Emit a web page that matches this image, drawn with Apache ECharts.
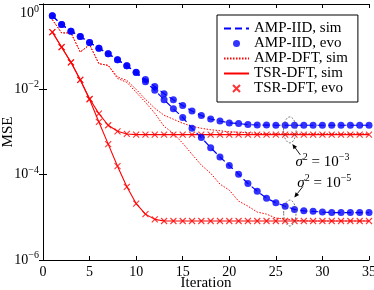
<!DOCTYPE html>
<html>
<head>
<meta charset="utf-8">
<script src="https://cdn.jsdelivr.net/npm/echarts@6/dist/echarts.min.js"></script>
<style>html,body{margin:0;padding:0;background:#fff}#c{width:374px;height:290px}</style>
</head>
<body>
<div id="c"></div>
<script>
// ---- data ----
const iterations = [1,2,3,4,5,6,7,8,9,10,11,12,13,14,15,16,17,18,19,20,21,22,23,24,25,26,27,28,29,30,31,32,33,34,35];
const xTicks = [0,5,10,15,20,25,30,35];
const yTickExponents = [0,-2,-4,-6];

// AMP-IID (sim and state evolution overlap)
const ampIid_s3 = [0.53,0.33,0.23,0.174,0.126,0.092,0.068,0.0495,0.0358,0.025,
  0.0169,0.0117,0.0079,0.0057,0.0042,0.0031,0.00243,0.00202,0.00181,0.00163,0.00158,0.00149,
  0.00146,0.00145,0.00144,0.00144,0.00144,0.00144,0.00144,0.00144,0.00144,0.00144,0.00144,0.00144,0.00144];
const ampIid_s5 = [0.53,0.33,0.23,0.174,0.126,0.092,0.068,0.0495,0.0355,0.0248,
  0.015,0.0095,0.0057,0.0035,0.0022,0.00122,7.4e-4,4.3e-4,2.6e-4,1.64e-4,1.02e-4,6.2e-5,4.1e-5,2.8e-5,2.2e-5,
  1.83e-5,1.53e-5,1.42e-5,1.38e-5,1.33e-5,1.29e-5,1.29e-5,1.29e-5,1.29e-5,1.29e-5];

// AMP-DFT, sim
const ampDft_s3 = [0.43,0.21,0.21,0.075,0.111,0.04,0.0364,
  0.0195,0.0162,0.0100,0.00583,0.0036,0.00247,0.00199,0.0016,0.00136,0.00122,0.00113,0.00107,0.00101,0.00099,0.00096,0.00093,
  0.00091,0.00091,0.00091,0.00091,0.00091,0.00091,0.00091,0.00091,0.00091,0.00091,0.00091,0.00091];
const ampDft_s5 = [0.43,0.21,0.21,0.075,0.111,0.04,0.0364,
  0.018,0.0146,0.0085,0.00497,0.00275,0.00136,0.00093,5.46e-4,3.0e-4,1.67e-4,1.08e-4,6.0e-5,4.34e-5,2.4e-5,1.83e-5,1.33e-5,1.19e-5,9.6e-6,9.1e-6,8.6e-6,
  8.2e-6,8.2e-6,8.2e-6,8.2e-6,8.2e-6,8.2e-6,8.2e-6,8.2e-6];

// TSR-DFT (sim and state evolution overlap)
const tsrDft_s3 = [0.22,0.097,0.043,0.0167,0.006,0.0027,0.00144,0.00104,9.0e-4,
  8.7e-4,8.7e-4,8.7e-4,8.7e-4,8.7e-4,8.7e-4,8.7e-4,8.7e-4,8.7e-4,8.7e-4,8.7e-4,8.7e-4,8.7e-4,8.7e-4,8.7e-4,8.7e-4,8.7e-4,
  8.7e-4,8.7e-4,8.7e-4,8.7e-4,8.7e-4,8.7e-4,8.7e-4,8.7e-4,8.7e-4];
const tsrDft_s5 = [0.22,0.097,0.043,0.0167,0.0058,0.00172,5.2e-4,1.58e-4,5.2e-5,2.1e-5,1.19e-5,8.95e-6,
  8.2e-6,8.2e-6,8.2e-6,8.2e-6,8.2e-6,8.2e-6,8.2e-6,8.2e-6,8.2e-6,8.2e-6,8.2e-6,8.2e-6,8.2e-6,8.2e-6,8.2e-6,8.2e-6,
  8.2e-6,8.2e-6,8.2e-6,8.2e-6,8.2e-6,8.2e-6,8.2e-6];

const legendNames = ['AMP-IID, sim','AMP-IID, evo','AMP-DFT, sim','TSR-DFT, sim','TSR-DFT, evo'];
const legendLineOnly = ['AMP-IID, sim','AMP-DFT, sim','TSR-DFT, sim'];

// ---- chart ----
const FONT = 'Liberation Serif';
const pair = arr => iterations.map((x,i)=>[x,arr[i]]);
const BLUE = '#0000ff', RED = '#ff0000';
const crossPath = 'path://M0,0L10,10M10,0L0,10';

function supLabel(v){
  const e = Math.round(Math.log10(v));
  return '{b|10}{s|' + (e < 0 ? '\u2212' + (-e) : String(e)) + '}';
}

const chart = echarts.init(document.getElementById('c'), null, {renderer:'canvas'});

const lineDotted = (name, data) => ({
  name, type:'line', data: pair(data), symbol:'none', z:2,
  lineStyle:{color:RED, width:1, type:[1.5,1.5]}, itemStyle:{color:RED}
});
const lineSolidRed = (name, data) => ({
  name, type:'line', data: pair(data), symbol:'none', z:3,
  lineStyle:{color:RED, width:1.1}, itemStyle:{color:RED}
});
const crossSeries = (name, data) => ({
  name, type:'scatter', data: pair(data), symbol: crossPath, symbolSize:6, z:4,
  itemStyle:{color:'rgba(0,0,0,0)', borderColor:RED, borderWidth:1.1}
});
const lineDashed = (name, data) => ({
  name, type:'line', data: pair(data), symbol:'none', z:5,
  lineStyle:{color:BLUE, width:1.2, type:[7,4]}, itemStyle:{color:BLUE}
});
const dotSeries = (name, data) => ({
  name, type:'scatter', data: pair(data), symbol:'circle', symbolSize:7, z:6,
  itemStyle:{color:BLUE}
});

const axisCommon = {
  axisLine:{show:true, lineStyle:{color:'#000', width:1}},
  axisTick:{show:true, inside:true, length:4, lineStyle:{color:'#000', width:1}},
  splitLine:{show:false}
};

chart.setOption({
  animation:false,
  backgroundColor:'#fff',
  grid:{left:43, right:5, top:4, bottom:30, containLabel:false, outerBoundsMode:'none'},
  legend:{
    data: legendNames.map(n => legendLineOnly.includes(n)
      ? {name:n, itemStyle:{opacity:0, borderWidth:0}}
      : {name:n}),
    orient:'vertical', left:217, top:15,
    padding:[6,10,6,6], itemGap:0, itemWidth:25, itemHeight:7,
    borderColor:'#000', borderWidth:1, backgroundColor:'#fff',
    textStyle:{fontFamily:FONT, fontSize:15, color:'#000', lineHeight:15},
    selectedMode:false
  },
  xAxis:[
    Object.assign({}, axisCommon, {
      type:'value', min:0, max:35, interval:5, position:'bottom',
      name:'Iteration', nameLocation:'middle', nameGap:16, nameMoveOverlap:false,
      nameTextStyle:{fontFamily:FONT, fontSize:15, color:'#000'},
      axisLabel:{fontFamily:FONT, fontSize:14, color:'#000', margin:5}
    }),
    Object.assign({}, axisCommon, {
      type:'value', min:0, max:35, interval:5, position:'top',
      axisLabel:{show:false}
    })
  ],
  yAxis:[
    Object.assign({}, axisCommon, {
      type:'log', logBase:10, min:1e-6, max:1, interval:2, position:'left',
      name:'MSE', nameLocation:'middle', nameGap:27, nameMoveOverlap:false,
      nameTextStyle:{fontFamily:FONT, fontSize:15, color:'#000'},
      axisLabel:{
        formatter: supLabel, margin:4, verticalAlignMaxLabel:'top',
        rich:{
          b:{fontFamily:FONT, fontSize:14, color:'#000'},
          s:{fontFamily:FONT, fontSize:10, color:'#000', padding:[0,0,9,0]}
        }
      }
    }),
    Object.assign({}, axisCommon, {
      type:'log', logBase:10, min:1e-6, max:1, interval:2, position:'right',
      axisLabel:{show:false}
    })
  ],
  series:[
    lineDotted('AMP-DFT, sim', ampDft_s3),
    lineDotted('AMP-DFT, sim', ampDft_s5),
    lineSolidRed('TSR-DFT, sim', tsrDft_s3),
    lineSolidRed('TSR-DFT, sim', tsrDft_s5),
    crossSeries('TSR-DFT, evo', tsrDft_s3),
    crossSeries('TSR-DFT, evo', tsrDft_s5),
    lineDashed('AMP-IID, sim', ampIid_s3),
    lineDashed('AMP-IID, sim', ampIid_s5),
    dotSeries('AMP-IID, evo', ampIid_s3),
    dotSeries('AMP-IID, evo', ampIid_s5)
  ]
});

// ---- annotations (placed through the axes) ----
const P = (x,y) => chart.convertToPixel({xAxisIndex:0, yAxisIndex:0}, [x,y]);
function arrow(from, to){
  const dx = to[0]-from[0], dy = to[1]-from[1];
  const L = Math.hypot(dx,dy), ux = dx/L, uy = dy/L;
  const hl = 5, hw = 2.2;
  const bx = to[0]-ux*hl, by = to[1]-uy*hl;
  return [
    {type:'line', shape:{x1:from[0], y1:from[1], x2:bx, y2:by}, style:{stroke:'#000', lineWidth:0.9}, z:20},
    {type:'polygon', shape:{points:[[to[0],to[1]],[bx-uy*hw,by+ux*hw],[bx+uy*hw,by-ux*hw]]}, style:{fill:'#000'}, z:20}
  ];
}
const e1 = P(26.5, 1.12e-3), e2 = P(26.5, 1.26e-5);
const t1 = P(30.0, 2.0e-4), t2 = P(30.2, 6.5e-5);
const richSigma = {
  i:{fontFamily:FONT, fontStyle:'italic', fontSize:15, fill:'#000'},
  n:{fontFamily:FONT, fontSize:15, fill:'#000'},
  s:{fontFamily:FONT, fontSize:10, fill:'#000', padding:[0,0,9,0]}
};
const a1 = arrow([e1[0]+10.5, e1[1]+25], [e1[0]+2.5, e1[1]+14]);
const a2 = arrow([e2[0]+13, e2[1]-26.5], [e2[0]+4.5, e2[1]-15.5]);
chart.setOption({
  graphic:[
    {type:'ellipse', shape:{cx:e1[0], cy:e1[1], rx:6.3, ry:13}, style:{fill:'none', stroke:'#555', lineWidth:0.8, lineDash:[2,1.5]}, z:20},
    {type:'ellipse', shape:{cx:e2[0], cy:e2[1], rx:6.2, ry:13}, style:{fill:'none', stroke:'#555', lineWidth:0.8, lineDash:[2,1.5]}, z:20},
    ...a1, ...a2,
    {type:'text', x:t1[0], y:t1[1], z:20, style:{text:'{i|σ}{s|2}{n| = 10}{s|\u22123}', rich:richSigma, align:'center', verticalAlign:'middle'}},
    {type:'text', x:t2[0], y:t2[1], z:20, style:{text:'{i|σ}{s|2}{n| = 10}{s|\u22125}', rich:richSigma, align:'center', verticalAlign:'middle'}}
  ]
});
</script>
</body>
</html>
